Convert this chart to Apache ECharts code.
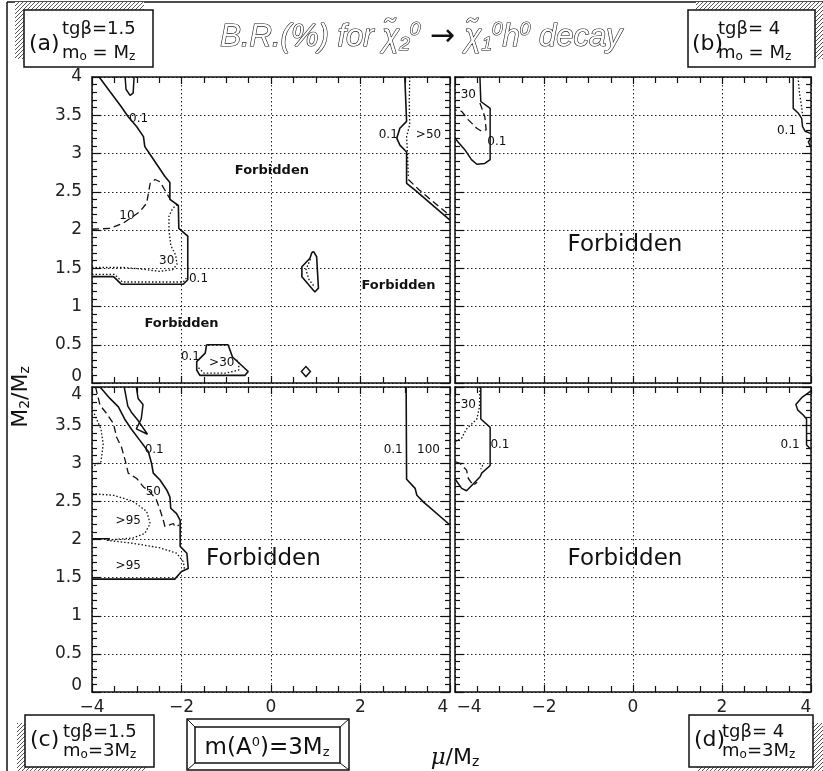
<!DOCTYPE html>
<html>
<head>
<meta charset="utf-8">
<script src="https://cdn.jsdelivr.net/npm/echarts@6/dist/echarts.min.js"></script>
<style>
html,body{margin:0;padding:0;background:#fff;}
#chart{width:823px;height:771px;}
</style>
</head>
<body>
<div id="chart"></div>
<script>
// Axis ranges and tick steps shared by the four panels
const muRange = [-4, 4];
const m2Range = [0, 4];
const muStep = 2;
const m2Step = 0.5;

// ---- Panel (a): tgβ=1.5, m0 = MZ ----
const aSolidLeft = [[-3.84,4.0],[-3.60,3.81],[-3.37,3.63],[-3.19,3.48],[-3.00,3.35],[-2.85,3.22],[-2.82,3.09],[-2.67,2.96],[-2.52,2.83],[-2.37,2.70],[-2.26,2.62],[-2.26,2.40],[-2.07,2.32],[-2.06,2.02],[-1.86,1.92],[-1.86,1.35],[-1.96,1.29],[-3.34,1.29],[-3.52,1.39],[-4.0,1.39]];
const aSolidLoop = [[-3.26,4.0],[-3.24,3.84],[-3.15,3.76],[-3.08,3.79],[-3.06,4.0]];
const aDash10 = [[-4.0,2.01],[-3.60,2.02],[-3.30,2.09],[-2.93,2.24],[-2.78,2.35],[-2.74,2.48],[-2.70,2.61],[-2.59,2.66],[-2.48,2.63],[-2.37,2.52],[-2.26,2.41]];
const aDot30 = [[-4.0,1.51],[-3.3,1.51],[-2.9,1.49],[-2.5,1.46],[-2.2,1.48],[-2.1,1.55],[-2.13,1.67],[-2.24,1.80],[-2.28,2.0],[-2.28,2.18],[-2.2,2.28],[-2.08,2.34]];
const aDotEdge = [[-4.0,1.42],[-3.5,1.42],[-3.32,1.32],[-1.96,1.32],[-1.89,1.37]];
const aSolidRight = [[2.99,4.0],[3.03,3.42],[2.88,3.33],[2.81,3.20],[2.88,3.11],[3.03,3.02],[3.03,2.61],[3.22,2.52],[4.0,2.13]];
const aDotRight = [[3.10,4.0],[3.09,3.66],[3.10,3.38],[3.03,3.22],[3.05,3.0],[3.07,2.68]];
const aDashRight = [[3.07,2.66],[3.30,2.53],[3.95,2.21]];
const aBlobSolid = [[0.95,1.72],[1.02,1.65],[1.06,1.24],[0.98,1.19],[0.69,1.39],[0.69,1.52],[0.87,1.63],[0.91,1.70],[0.95,1.72]];
const aBlobDot = [[0.88,1.62],[0.78,1.48],[0.85,1.35],[0.98,1.25]];
const aLowSolid = [[-1.44,0.50],[-0.96,0.50],[-0.86,0.34],[-0.51,0.15],[-0.58,0.10],[-1.59,0.10],[-1.66,0.17],[-1.66,0.28],[-1.47,0.39],[-1.44,0.50]];
const aLowDot = [[-1.62,0.20],[-1.5,0.13],[-1.0,0.13],[-0.72,0.17],[-0.72,0.27],[-0.8,0.32]];
const aPoint = [[0.78,0.15]];
const aLabels = [['0.1',-2.96,3.45],['10',-3.22,2.19],['30',-2.33,1.60],['0.1',-1.62,1.36],['0.1',2.62,3.24],['>50',3.52,3.24],['0.1',-1.80,0.34],['>30',-1.10,0.26]];
const aRegions = [['Forbidden',0.02,2.78],['Forbidden',2.85,1.27],['Forbidden',-2.0,0.77]];

// ---- Panel (b): tgβ=4, m0 = MZ ----
const bSolidLeft = [[-3.44,4.0],[-3.42,3.68],[-3.21,3.59],[-3.21,2.92],[-3.33,2.87],[-3.51,2.86],[-3.63,2.92],[-3.78,3.05],[-3.93,3.15],[-4.0,3.2]];
const bDashLeft = [[-3.44,3.66],[-3.33,3.48],[-3.30,3.31],[-3.40,3.29],[-3.51,3.33],[-3.70,3.44],[-3.85,3.55],[-4.0,3.57]];
const bSolidRight = [[3.60,4.0],[3.60,3.59],[3.71,3.53],[3.79,3.46],[3.81,3.35],[3.87,3.29],[4.0,3.26]];
const bSolidHook = [[4.0,3.20],[3.94,3.15],[4.0,3.08]];
const bDotRight = [[3.71,4.0],[3.74,3.79],[3.79,3.61],[3.81,3.5]];
const bLabels = [['30',-3.70,3.76],['0.1',-3.06,3.15],['0.1',3.45,3.29]];
const bRegions = [['Forbidden',-0.18,1.80]];

// ---- Panel (c): tgβ=1.5, m0 = 3MZ ----
const cSolidOuter = [[-3.82,4.0],[-3.60,3.85],[-3.41,3.74],[-3.26,3.57],[-3.11,3.44],[-2.93,3.30],[-2.74,3.15],[-2.67,3.0],[-2.63,2.87],[-2.48,2.78],[-2.33,2.65],[-2.26,2.56],[-2.24,2.41],[-2.11,2.34],[-2.03,2.25],[-2.03,1.91],[-1.88,1.82],[-1.85,1.62],[-2.0,1.58],[-2.15,1.48],[-4.0,1.48]];
const cSolidInner = [[-3.28,4.0],[-3.20,3.75],[-3.12,3.67],[-2.97,3.56],[-2.76,3.38],[-3.01,3.45],[-2.90,3.58],[-2.86,3.77],[-2.97,3.85],[-3.01,4.0]];
const cDash50 = [[-3.92,4.0],[-3.82,3.76],[-3.67,3.65],[-3.52,3.52],[-3.45,3.34],[-3.34,3.21],[-3.26,3.04],[-3.19,2.87],[-3.0,2.80],[-2.85,2.69],[-2.70,2.62],[-2.56,2.52],[-2.48,2.39],[-2.41,2.26],[-2.37,2.17],[-2.18,2.21],[-2.15,2.17],[-2.05,2.19]];
const cDotTop = [[-3.95,3.65],[-3.80,3.45],[-3.75,3.25],[-3.80,3.02],[-4.0,2.95]];
const cDot95a = [[-4.0,2.60],[-3.52,2.58],[-3.08,2.50],[-2.78,2.37],[-2.70,2.21],[-2.82,2.08],[-3.08,2.02],[-3.49,2.0],[-3.67,1.99]];
const cSolidStep = [[-4.0,2.01],[-3.6,2.01]];
const cDot95b = [[-3.67,1.99],[-3.08,1.95],[-2.48,1.89],[-2.11,1.82],[-1.96,1.71],[-1.93,1.60]];
const cSolidRight = [[3.02,4.0],[3.03,2.79],[3.22,2.67],[3.26,2.58],[3.41,2.49],[4.0,2.19]];
const cLabels = [['0.1',-2.61,3.17],['50',-2.63,2.63],['>95',-3.19,2.24],['>95',-3.19,1.65],['0.1',2.73,3.17],['100',3.52,3.17]];
const cRegions = [['Forbidden',-0.17,1.74]];

// ---- Panel (d): tgβ=4, m0 = 3MZ ----
const dSolidLeft = [[-3.42,4.0],[-3.42,3.58],[-3.21,3.47],[-3.21,2.97],[-3.40,2.87],[-3.44,2.82],[-3.74,2.64],[-3.85,2.67],[-3.96,2.76],[-4.0,2.8]];
const dDot30 = [[-3.44,4.0],[-3.45,3.74],[-3.51,3.58],[-3.74,3.45],[-3.85,3.33],[-4.0,3.28]];
const dDash = [[-4.0,3.02],[-3.89,3.0],[-3.74,2.91],[-3.70,2.80],[-3.59,2.71],[-3.50,2.75]];
const dDotSmall = [[-3.45,3.0],[-3.38,2.97],[-3.42,2.92]];
const dSolidRight = [[4.0,3.95],[3.79,3.86],[3.66,3.77],[3.70,3.70],[3.83,3.63],[3.90,3.58],[3.90,3.24],[4.0,3.18]];
const dLabels = [['30',-3.70,3.76],['0.1',-2.99,3.24],['0.1',3.53,3.24]];
const dRegions = [['Forbidden',-0.18,1.74]];

// ---- layout of the 2x2 panel grid ----
const grids = [
  {left: 92,  top: 77,  width: 358, height: 306},
  {left: 455, top: 77,  width: 356, height: 306},
  {left: 92,  top: 387, width: 358, height: 305},
  {left: 455, top: 387, width: 356, height: 305}
];

const INK = '#111';
const LABEL = '#222';
const FONT = '"DejaVu Sans", "Noto Sans", sans-serif';
const minus = v => (v < 0 ? '\u2212' + (-v) : String(v));

const xAxes = [], yAxes = [];
grids.forEach((g, i) => {
  const showX = i >= 2, showY = i % 2 === 0;
  const common = {
    type: 'value', gridIndex: i,
    axisLine: {show: true, onZero: false, lineStyle: {color: INK, width: 1.5}},
    axisTick: {show: true, inside: true, length: 7, lineStyle: {color: INK, width: 1.2}},
  };
  xAxes.push(Object.assign({}, common, {
    position: 'bottom', min: muRange[0], max: muRange[1], interval: muStep,
    minorTick: {show: true, splitNumber: 4, length: 6, lineStyle: {color: INK, width: 1.2}},
    splitLine: {show: true, lineStyle: {color: '#222', width: 1, type: [1.5, 2.5]}},
    axisLabel: {
      show: showX, margin: 7, fontSize: 17, color: LABEL, fontFamily: FONT,
      formatter: v => {
        if (v === 4 && i === 2) return '{r|' + minus(v) + '}';
        if (v === 4 && i === 3) return '{r2|' + minus(v) + '}';
        if (v === -4 && i === 3) return '{l|' + minus(v) + '}';
        return minus(v);
      },
      rich: {
        r: {fontSize: 17, color: LABEL, fontFamily: FONT, padding: [0, 14, 0, 0]},
        r2: {fontSize: 17, color: LABEL, fontFamily: FONT, padding: [0, 10, 0, 0]},
        l: {fontSize: 17, color: LABEL, fontFamily: FONT, padding: [0, 0, 0, 28]}
      }
    }
  }));
  xAxes.push(Object.assign({}, common, {
    position: 'top', min: muRange[0], max: muRange[1], interval: muStep,
    minorTick: {show: true, splitNumber: 4, length: 6, lineStyle: {color: INK, width: 1.2}},
    splitLine: {show: false}, axisLabel: {show: false}
  }));
  yAxes.push(Object.assign({}, common, {
    position: 'left', min: m2Range[0], max: m2Range[1], interval: m2Step,
    axisTick: {show: true, inside: true, length: 9, lineStyle: {color: INK, width: 1.2}},
    minorTick: {show: true, splitNumber: 5, length: 5, lineStyle: {color: INK, width: 1.2}},
    splitLine: {show: true, lineStyle: {color: '#222', width: 1, type: [1.5, 2.5]}},
    axisLabel: {
      show: showY, margin: 10, fontSize: 17, color: LABEL, fontFamily: FONT,
      formatter: v => {
        if (v === 0) return '{up|0}';
        if (v === 4 && i === 2) return '{dn|4}';
        return String(v);
      },
      rich: {
        up: {fontSize: 17, color: LABEL, fontFamily: FONT, padding: [0, 0, 12, 0]},
        dn: {fontSize: 17, color: LABEL, fontFamily: FONT, padding: [16, 0, 0, 0]}
      }
    }
  }));
  yAxes.push(Object.assign({}, common, {
    position: 'right', min: m2Range[0], max: m2Range[1], interval: m2Step,
    axisTick: {show: true, inside: true, length: 9, lineStyle: {color: INK, width: 1.2}},
    minorTick: {show: true, splitNumber: 5, length: 5, lineStyle: {color: INK, width: 1.2}},
    splitLine: {show: false}, axisLabel: {show: false}
  }));
});

const dashTypes = {solid: 'solid', dash: [7, 4], dot: [1.5, 2]};
function contour(p, data, kind, width) {
  return {
    type: 'line', xAxisIndex: 2 * p, yAxisIndex: 2 * p, data: data,
    symbol: 'none', showSymbol: false, silent: true, clip: true, z: 3,
    lineStyle: {color: INK, opacity: 1, width: width || (kind === 'solid' ? 1.5 : 1.3), type: dashTypes[kind]}
  };
}
function textMarks(p, items, size, weight) {
  return {
    type: 'scatter', xAxisIndex: 2 * p, yAxisIndex: 2 * p, symbolSize: 0, silent: true, z: 6,
    itemStyle: {opacity: 1},
    data: items.map(it => ({name: it[0], value: [it[1], it[2]]})),
    label: {show: true, position: 'inside', formatter: q => q.name, fontSize: size, opacity: 1,
            fontWeight: weight || 'normal', color: INK, fontFamily: FONT,
            textBorderWidth: 0}
  };
}

const series = [
  contour(0, aSolidLeft, 'solid', 1.6), contour(0, aSolidLoop, 'solid'),
  contour(0, aDash10, 'dash'), contour(0, aDot30, 'dot'), contour(0, aDotEdge, 'dot'),
  contour(0, aSolidRight, 'solid', 1.6), contour(0, aDotRight, 'dot'), contour(0, aDashRight, 'dash'),
  contour(0, aBlobSolid, 'solid', 1.6), contour(0, aBlobDot, 'dot'),
  contour(0, aLowSolid, 'solid', 1.6), contour(0, aLowDot, 'dot'),
  {type: 'scatter', xAxisIndex: 0, yAxisIndex: 0, data: aPoint, symbol: 'diamond', symbolSize: [9, 10],
   silent: true, itemStyle: {color: '#fff', borderColor: INK, borderWidth: 1.5, opacity: 1}, z: 4},
  textMarks(0, aLabels, 12), textMarks(0, aRegions, 13, 'bold'),

  contour(1, bSolidLeft, 'solid'), contour(1, bDashLeft, 'dash'),
  contour(1, bSolidRight, 'solid'), contour(1, bSolidHook, 'solid'), contour(1, bDotRight, 'dot'),
  textMarks(1, bLabels, 12), textMarks(1, bRegions, 23),

  contour(2, cSolidOuter, 'solid', 1.6), contour(2, cSolidInner, 'solid'),
  contour(2, cDash50, 'dash'), contour(2, cDotTop, 'dot'), contour(2, cDot95a, 'dot'),
  contour(2, cSolidStep, 'solid'), contour(2, cDot95b, 'dot'), contour(2, cSolidRight, 'solid', 1.6),
  textMarks(2, cLabels, 12), textMarks(2, cRegions, 23),

  contour(3, dSolidLeft, 'solid'), contour(3, dDot30, 'dot'), contour(3, dDash, 'dash'),
  contour(3, dDotSmall, 'dot'), contour(3, dSolidRight, 'solid'),
  textMarks(3, dLabels, 12), textMarks(3, dRegions, 23)
];

// hatched fill used for the drop shadows of the panel captions
function hatch() {
  const c = document.createElement('canvas');
  c.width = 4; c.height = 4;
  const ctx = c.getContext('2d');
  ctx.fillStyle = '#fff'; ctx.fillRect(0, 0, 4, 4);
  ctx.fillStyle = '#555';
  ctx.fillRect(0, 0, 1, 1); ctx.fillRect(2, 2, 1, 1); ctx.fillRect(1, 3, 1, 1); ctx.fillRect(3, 1, 1, 1);
  return c;
}
const hatchFill = {image: hatch(), repeat: 'repeat'};

const richBox = {
  t: {fontSize: 18, fontFamily: FONT, fill: INK},
  s: {fontSize: 12, fontFamily: FONT, fill: INK, padding: [8, 0, 0, 0]}
};
function caption(box, shadow, tag, tagPos, line1, pos1, line2, pos2) {
  return [
    {type: 'rect', shape: shadow, style: {fill: hatchFill}, z: 10},
    {type: 'rect', shape: box, style: {fill: '#fff', stroke: INK, lineWidth: 1.5}, z: 11},
    {type: 'text', x: tagPos[0], y: tagPos[1], z: 12,
     style: {text: tag, fontSize: 22, fontFamily: FONT, fill: INK, verticalAlign: 'middle'}},
    {type: 'text', x: pos1[0], y: pos1[1], z: 12,
     style: {text: line1, rich: richBox, verticalAlign: 'middle', fontSize: 18, fontFamily: FONT, fill: INK}},
    {type: 'text', x: pos2[0], y: pos2[1], z: 12,
     style: {text: line2, rich: richBox, verticalAlign: 'middle', fontSize: 18, fontFamily: FONT, fill: INK}}
  ];
}

const TF = '"Liberation Sans", sans-serif';
const titleRich = {
  t: {fontSize: 31, fontStyle: 'italic', fontFamily: TF, fill: '#fff', stroke: '#111', lineWidth: 1.2},
  s: {fontSize: 19, fontStyle: 'italic', fontFamily: TF, fill: '#fff', stroke: '#111', lineWidth: 1.1, padding: [15, 0, 0, 0]},
  p: {fontSize: 19, fontStyle: 'italic', fontFamily: TF, fill: '#fff', stroke: '#111', lineWidth: 1.1, padding: [0, 0, 15, 0]},
  a: {fontSize: 30, fontFamily: '"DejaVu Sans", sans-serif', fill: '#111'}
};

const graphic = [].concat(
  [
    // outer frame of the figure
    {type: 'line', shape: {x1: 7, y1: 2, x2: 7, y2: 771}, style: {stroke: INK, lineWidth: 1.5}, z: 1},
    {type: 'line', shape: {x1: 7, y1: 2, x2: 823, y2: 2}, style: {stroke: INK, lineWidth: 1.5}, z: 1},
    {type: 'text', x: 421, y: 37, z: 12,
     style: {text: '{t|B.R.(%) for χ̃}{s|2}{p|0}{a| → }{t|χ̃}{s|1}{p|0}{t|h}{p|0}{t| decay}', rich: titleRich,
             align: 'center', verticalAlign: 'middle'}},
    {type: 'text', x: 455, y: 758, z: 12,
     style: {text: '{i|μ}{t|/M}{s|z}', align: 'center', verticalAlign: 'middle',
             rich: {i: {fontSize: 23, fontStyle: 'italic', fontFamily: '"DejaVu Serif", serif', fill: INK},
                    t: {fontSize: 22, fontFamily: FONT, fill: INK},
                    s: {fontSize: 14, fontFamily: FONT, fill: INK, padding: [9, 0, 0, 0]}}}},
    {type: 'text', x: 21, y: 397, rotation: Math.PI / 2, z: 12,
     style: {text: '{t|M}{s|2}{t|/M}{s|z}', align: 'center', verticalAlign: 'middle',
             rich: {t: {fontSize: 22, fontFamily: FONT, fill: INK},
                    s: {fontSize: 14, fontFamily: FONT, fill: INK, padding: [9, 0, 0, 0]}}}},
    // m(A0) caption with bevelled frame
    {type: 'rect', shape: {x: 187, y: 719, width: 162, height: 51}, style: {fill: '#fff', stroke: INK, lineWidth: 1.5}, z: 10},
    {type: 'rect', shape: {x: 195, y: 727, width: 145, height: 36}, style: {fill: '#fff', stroke: INK, lineWidth: 1.5}, z: 11},
    {type: 'line', shape: {x1: 187, y1: 719, x2: 195, y2: 727}, style: {stroke: INK, lineWidth: 1}, z: 11},
    {type: 'line', shape: {x1: 349, y1: 719, x2: 340, y2: 727}, style: {stroke: INK, lineWidth: 1}, z: 11},
    {type: 'line', shape: {x1: 187, y1: 770, x2: 195, y2: 763}, style: {stroke: INK, lineWidth: 1}, z: 11},
    {type: 'line', shape: {x1: 349, y1: 770, x2: 340, y2: 763}, style: {stroke: INK, lineWidth: 1}, z: 11},
    {type: 'text', x: 267, y: 748, z: 12,
     style: {text: '{t|m(A}{p|0}{t|)=3M}{s|z}', align: 'center', verticalAlign: 'middle',
             rich: {t: {fontSize: 23, fontFamily: FONT, fill: INK},
                    p: {fontSize: 13, fontFamily: FONT, fill: INK, padding: [0, 0, 11, 0]},
                    s: {fontSize: 13, fontFamily: FONT, fill: INK, padding: [10, 0, 0, 0]}}}}
  ],
  caption({x: 24, y: 10, width: 129, height: 57}, {x: 15, y: 2, width: 129, height: 57},
          '(a)', [29, 44], '{t|tgβ=1.5}', [62, 29], '{t|m}{s|o}{t| = M}{s|z}', [62, 53]),
  caption({x: 688, y: 10, width: 127, height: 57}, {x: 696, y: 2, width: 127, height: 57},
          '(b)', [692, 44], '{t|tgβ= 4}', [718, 29], '{t|m}{s|o}{t| = M}{s|z}', [718, 53]),
  caption({x: 25, y: 715, width: 129, height: 52}, {x: 17, y: 723, width: 129, height: 48},
          '(c)', [30, 740], '{t|tgβ=1.5}', [63, 732], '{t|m}{s|o}{t|=3M}{s|z}', [63, 751]),
  caption({x: 689, y: 715, width: 124, height: 52}, {x: 697, y: 723, width: 126, height: 48},
          '(d)', [694, 740], '{t|tgβ= 4}', [722, 732], '{t|m}{s|o}{t|=3M}{s|z}', [722, 751])
);

const chart = echarts.init(document.getElementById('chart'), null, {renderer: 'canvas'});
chart.setOption({
  animation: false,
  backgroundColor: '#fff',
  grid: grids,
  xAxis: xAxes,
  yAxis: yAxes,
  series: series,
  graphic: graphic
});
</script>
</body>
</html>
